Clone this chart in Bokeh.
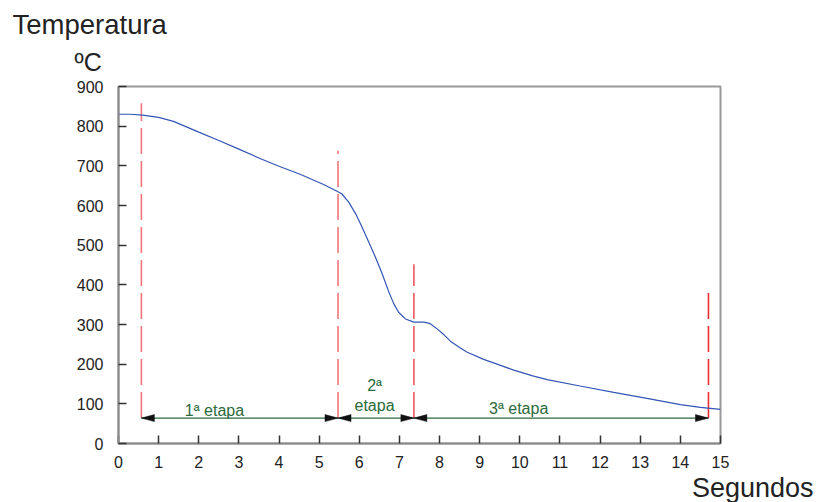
from bokeh.plotting import figure
from bokeh.models import Range1d, Label, FixedTicker, Title
from bokeh.embed import file_html
from bokeh.resources import INLINE

# ---- data ----
time_s = [0.0, 0.3, 0.6, 1.0, 1.37, 2.0, 2.5, 3.0, 3.54, 4.0, 4.54, 5.11, 5.41, 5.57,
          5.74, 5.91, 6.07, 6.24, 6.40, 6.57, 6.74, 6.86, 6.98, 7.15, 7.36, 7.61,
          7.77, 7.94, 8.11, 8.27, 8.5, 8.69, 9.1, 9.52, 9.85, 10.3, 10.68,
          11.5, 12.34, 13.2, 14.0, 14.5, 15.0]
temp_c = [830, 830, 828, 822, 812, 785, 764, 742, 718, 699, 678, 653, 638, 629,
          608, 579, 545, 507, 470, 428, 381, 352, 331, 314, 306, 306,
          302, 289, 274, 258, 242, 230, 212, 197, 185, 171, 161,
          145, 129, 113, 98, 91, 86]

marker_x = [0.57, 5.47, 7.36, 14.7]
marker_top = [858, 738, 452, 396]
arrow_level = 64
stage_names = ["1ª etapa", "2ª\netapa", "3ª etapa"]
x_ticks = list(range(0, 16))
y_ticks = list(range(0, 1000, 100))

# ---- figure ----
W, H = 817, 502
L, R, T, B = 118, 97, 86, 59
p = figure(width=W, height=H, x_range=Range1d(0, 15), y_range=Range1d(0, 900),
           output_backend="svg", toolbar_location=None,
           min_border_left=L, min_border_right=R, min_border_top=T, min_border_bottom=B)
p.grid.visible = False
p.background_fill_color = "white"
p.border_fill_color = "white"
p.outline_line_color = "#999999"
p.outline_line_width = 2

FONT = "Liberation Sans"
for ax in (p.xaxis[0], p.yaxis[0]):
    ax.axis_line_color = "#8c8c8c"
    ax.axis_line_width = 2
    ax.major_tick_in = 8
    ax.major_tick_out = 0
    ax.major_tick_line_color = "#333333"
    ax.major_tick_line_width = 1.5
    ax.minor_tick_line_color = None
    ax.major_label_text_font = FONT
    ax.major_label_text_font_size = "16px"
    ax.major_label_text_color = "#222222"
p.xaxis[0].ticker = FixedTicker(ticks=x_ticks)
p.yaxis[0].ticker = FixedTicker(ticks=y_ticks)
p.xaxis[0].major_label_standoff = 12
p.yaxis[0].major_label_standoff = 15

# pixel -> data scale
xpp = 15 / (W - L - R)
ypp = 900 / (H - T - B)

# red dashed stage boundaries
marker_colors = ["#f2757c", "#f2757c", "#f0565e", "#ee2e36"]
for xm, top, c in zip(marker_x, marker_top, marker_colors):
    p.segment(x0=[xm], y0=[arrow_level], x1=[xm], y1=[top],
              line_color=c, line_width=1.6, line_dash="26 7")

# cooling curve
p.line(time_s, temp_c, line_color="#3355b5", line_width=1.2)

# stage arrows
p.segment(x0=[marker_x[0]], y0=[arrow_level], x1=[marker_x[-1]], y1=[arrow_level],
          line_color="#2d6a3e", line_width=1.2)
head_len = 13 * xpp
head_half = 3.5 * ypp
xs, ys = [], []
for a, b in zip(marker_x[:-1], marker_x[1:]):
    xs.append([a, a + head_len, a + head_len])
    ys.append([arrow_level, arrow_level + head_half, arrow_level - head_half])
    xs.append([b, b - head_len, b - head_len])
    ys.append([arrow_level, arrow_level + head_half, arrow_level - head_half])
p.patches(xs, ys, fill_color="#111111", line_color="#111111", line_width=0.5)

# stage labels
GREEN = "#2b6a3b"
stage_pos = [(2.39, 84), (6.38, 146), (9.97, 87)]
for name, (sx, sy) in zip(stage_names, stage_pos):
    lines = name.split("\n")
    for i, t in enumerate(lines):
        p.add_layout(Label(x=sx, y=sy - i * 50, text=t, text_align="center",
                           text_baseline="alphabetic", text_font=FONT,
                           text_font_size="16px", text_color=GREEN))

# axis titles as panel titles (a small blank spacer sits closest to the frame)
spacer = Title(text=" ", text_font_size="4px", standoff=0)
t_unit = Title(text="ºC", align="left", offset=-44, text_font=FONT,
               text_font_size="25px", text_color="#222222", text_font_style="normal",
               standoff=8)
t_name = Title(text="Temperatura", align="left", offset=-106, text_font=FONT,
               text_font_size="27.5px", text_color="#222222", text_font_style="normal",
               standoff=4)
p.add_layout(spacer, "above")
p.add_layout(t_unit, "above")
p.add_layout(t_name, "above")
t_x = Title(text="Segundos", align="right", offset=-93, text_font=FONT,
            text_font_size="27px", text_color="#222222", text_font_style="normal",
            standoff=0)
p.add_layout(t_x, "below")

open("out.html", "w").write(file_html(p, INLINE))
